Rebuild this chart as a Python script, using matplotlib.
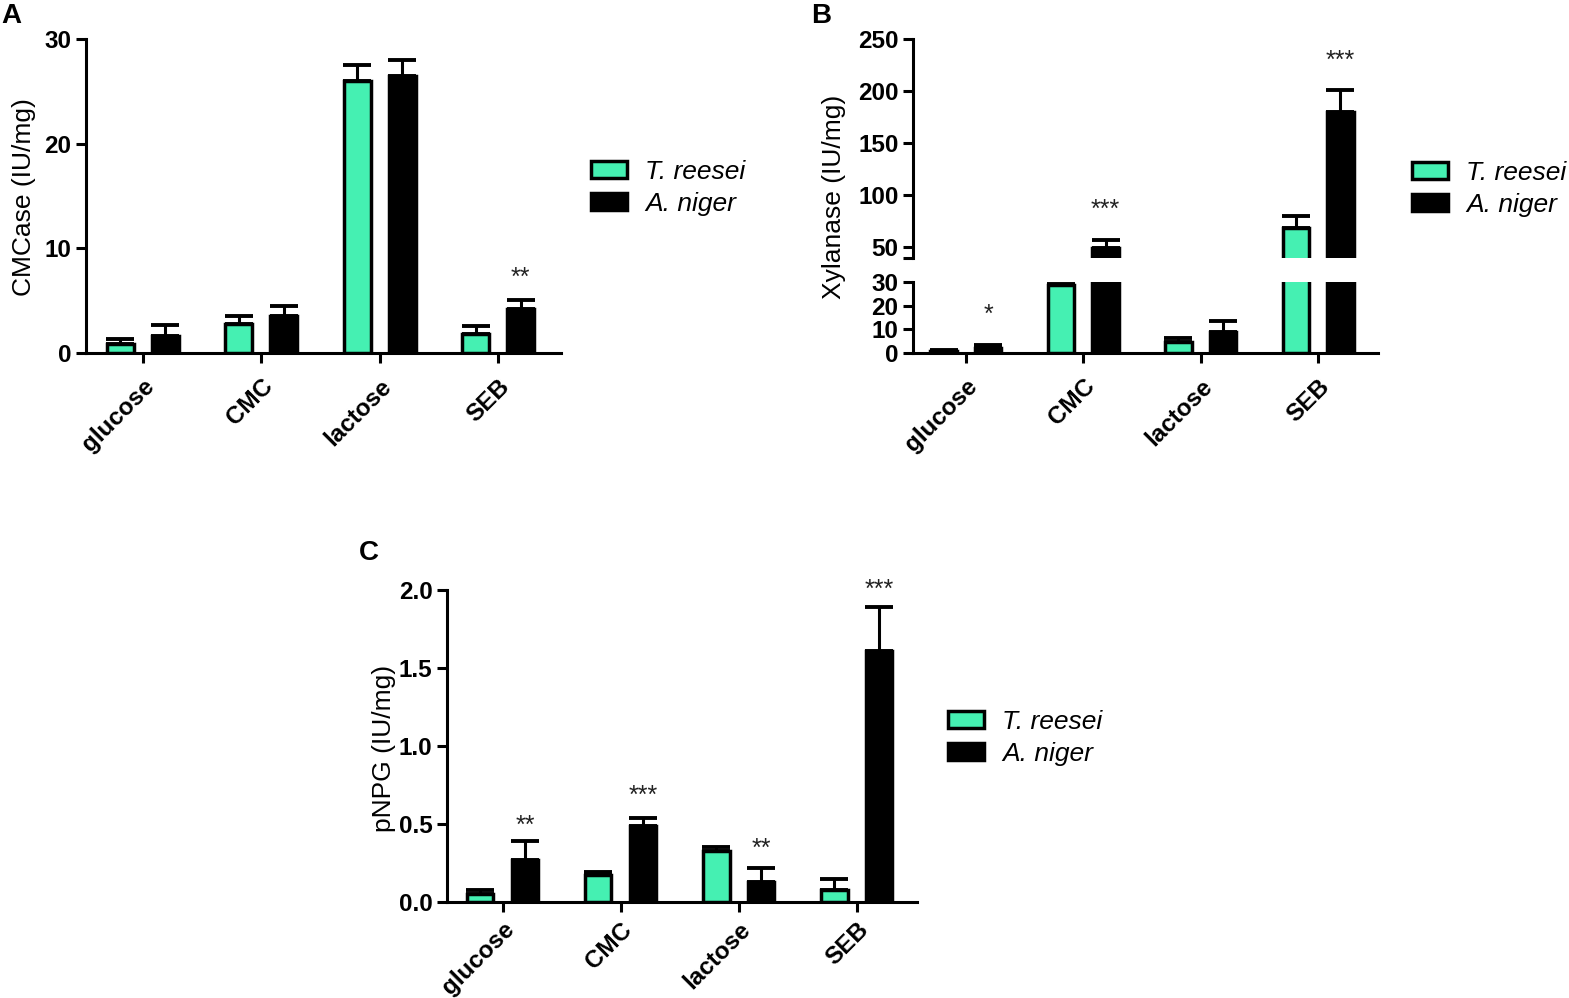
import matplotlib
matplotlib.use('Agg')
import matplotlib.pyplot as plt
import numpy as np

plt.rcParams['font.family'] = ['Liberation Sans', 'DejaVu Sans']

# ---------------- data ----------------
categories = ['glucose', 'CMC', 'lactose', 'SEB']
series = ['T. reesei', 'A. niger']

cmcase_tr = [0.9, 2.8, 26.0, 1.8]
cmcase_tr_err = [0.45, 0.7, 1.5, 0.75]
cmcase_an = [1.65, 3.55, 26.5, 4.2]
cmcase_an_err = [1.05, 0.9, 1.45, 0.9]
cmcase_stars = ['', '', '', '**']
cmcase_star_y = [0, 0, 0, 7.9]

xyl_tr = [0.8, 28.8, 4.5, 68.0]
xyl_tr_err = [0.3, 0.5, 2.0, 12.0]
xyl_an = [2.3, 49.0, 9.0, 180.0]
xyl_an_err = [1.1, 7.7, 4.5, 21.0]
xyl_stars = ['*', '***', '', '***']
xyl_star_y = [19.7, 93.0, 0, 237.0]

pnpg_tr = [0.05, 0.17, 0.33, 0.08]
pnpg_tr_err = [0.03, 0.02, 0.02, 0.07]
pnpg_an = [0.27, 0.49, 0.13, 1.61]
pnpg_an_err = [0.12, 0.05, 0.09, 0.28]
pnpg_stars = ['**', '***', '**', '***']
pnpg_star_y = [0.54, 0.73, 0.39, 2.05]

# ---------------- style ----------------
W, H = 1569, 998
GREEN = '#45F0B2'
LW = 2.2
BAR_LW = 2.5
BAR_W = 0.225
OFF = 0.19
CAP = 10
TICK_FS = 17.5
LABEL_FS = 19
LEG_FS = 19
STAR_FS = 18
LETTER_FS = 20

fig = plt.figure(figsize=(W / 100, H / 100), dpi=100)


def ax_at(left, top, right, bottom):
    return fig.add_axes([left / W, 1 - bottom / H, (right - left) / W, (bottom - top) / H])


def style_ax(ax, show_x=True, xpad=8):
    for s in ['top', 'right']:
        ax.spines[s].set_visible(False)
    ax.spines['left'].set_linewidth(LW)
    ax.spines['bottom'].set_linewidth(LW)
    ax.tick_params(axis='both', which='major', direction='out', length=7.5, width=LW,
                   labelsize=TICK_FS, pad=3)
    for lab in ax.get_yticklabels():
        lab.set_fontweight('bold')
    ax.set_facecolor('none')
    if show_x:
        ax.set_xticks(np.arange(len(categories)))
        ax.set_xticklabels(categories, rotation=45, ha='right', va='top',
                           rotation_mode='anchor', fontweight='bold', fontsize=TICK_FS)
        ax.tick_params(axis='x', pad=xpad)
    else:
        ax.spines['bottom'].set_visible(False)
        ax.set_xticks([])


def draw_bars(ax, tr, tre, an, ane):
    x = np.arange(len(categories))
    b1 = ax.bar(x - OFF, tr, BAR_W, color=GREEN, edgecolor='black', linewidth=BAR_LW,
                zorder=3, label=series[0])
    b2 = ax.bar(x + OFF, an, BAR_W, color='black', edgecolor='black', linewidth=BAR_LW,
                zorder=3, label=series[1])
    zeros = np.zeros(len(categories))
    ax.errorbar(x - OFF, tr, yerr=[zeros, tre], fmt='none', ecolor='black',
                elinewidth=LW, capsize=CAP, capthick=LW + 0.6, zorder=2)
    ax.errorbar(x + OFF, an, yerr=[zeros, ane], fmt='none', ecolor='black',
                elinewidth=LW, capsize=CAP, capthick=LW + 0.6, zorder=2)
    return b1, b2


def draw_stars(ax, stars, ys, ylo, yhi):
    x = np.arange(len(categories))
    for xi, s, y in zip(x, stars, ys):
        if s and ylo <= y <= yhi:
            ax.annotate(s, (xi + OFF, y), xytext=(0, -0.6 * STAR_FS), textcoords='offset points',
                        ha='center', va='baseline', fontsize=STAR_FS, color='#222222',
                        annotation_clip=False)


def add_legend(ax, handles, x_px, y_px):
    ax.legend(handles, series, loc='upper left', bbox_to_anchor=(x_px / W, 1 - y_px / H),
              bbox_transform=fig.transFigure, frameon=False,
              prop={'style': 'italic', 'size': LEG_FS},
              handlelength=1.35, handleheight=0.6, handletextpad=0.7,
              labelspacing=0.3, borderpad=0, borderaxespad=0)


# ---------------- Panel A ----------------
axA = ax_at(86, 39, 561, 353)
hA = draw_bars(axA, cmcase_tr, cmcase_tr_err, cmcase_an, cmcase_an_err)
axA.set_ylim(0, 30)
axA.set_yticks([0, 10, 20, 30])
axA.set_xlim(-0.48, 3.53)
style_ax(axA)
draw_stars(axA, cmcase_stars, cmcase_star_y, 0, 30)
add_legend(axA, hA, 591, 160)
fig.text(24 / W, 1 - 197 / H, 'CMCase (IU/mg)', rotation=90, ha='center', va='center',
         fontsize=LABEL_FS)
fig.text(1 / W, 1 - 3 / H, 'A', ha='left', va='top', fontsize=LETTER_FS, fontweight='bold')

# ---------------- Panel B (broken axis) ----------------
B_BREAK = 39.4
axBu = ax_at(913, 39, 1378, 258)
axBl = ax_at(913, 282, 1378, 353)
hB = draw_bars(axBl, xyl_tr, xyl_tr_err, xyl_an, xyl_an_err)
draw_bars(axBu, xyl_tr, xyl_tr_err, xyl_an, xyl_an_err)
axBu.set_ylim(B_BREAK, 250)
axBl.set_ylim(0, 30)
axBu.set_yticks([B_BREAK, 50, 100, 150, 200, 250])
axBu.set_yticklabels(['', '50', '100', '150', '200', '250'])
axBl.set_yticks([0, 10, 20, 30])
for a in (axBu, axBl):
    a.set_xlim(-0.45, 3.51)
style_ax(axBu, show_x=False)
style_ax(axBl, show_x=True)
draw_stars(axBu, xyl_stars, xyl_star_y, B_BREAK, 260)
draw_stars(axBl, xyl_stars, xyl_star_y, 0, 30)
add_legend(axBu, hB, 1412, 161)
fig.text(834 / W, 1 - 197 / H, 'Xylanase (IU/mg)', rotation=90, ha='center', va='center',
         fontsize=LABEL_FS)
fig.text(811 / W, 1 - 3 / H, 'B', ha='left', va='top', fontsize=LETTER_FS, fontweight='bold')

# ---------------- Panel C ----------------
axC = ax_at(447, 590, 917, 902)
hC = draw_bars(axC, pnpg_tr, pnpg_tr_err, pnpg_an, pnpg_an_err)
axC.set_ylim(0, 2.0)
axC.set_yticks([0.0, 0.5, 1.0, 1.5, 2.0])
axC.set_yticklabels(['0.0', '0.5', '1.0', '1.5', '2.0'])
axC.set_xlim(-0.47, 3.51)
style_ax(axC, xpad=4)
draw_stars(axC, pnpg_stars, pnpg_star_y, 0, 2.2)
add_legend(axC, hC, 948, 710)
fig.text(384 / W, 1 - 748 / H, 'pNPG (IU/mg)', rotation=90, ha='center', va='center',
         fontsize=LABEL_FS)
fig.text(359 / W, 1 - 540 / H, 'C', ha='left', va='top', fontsize=LETTER_FS, fontweight='bold')

fig.savefig('out.png', dpi=100)
